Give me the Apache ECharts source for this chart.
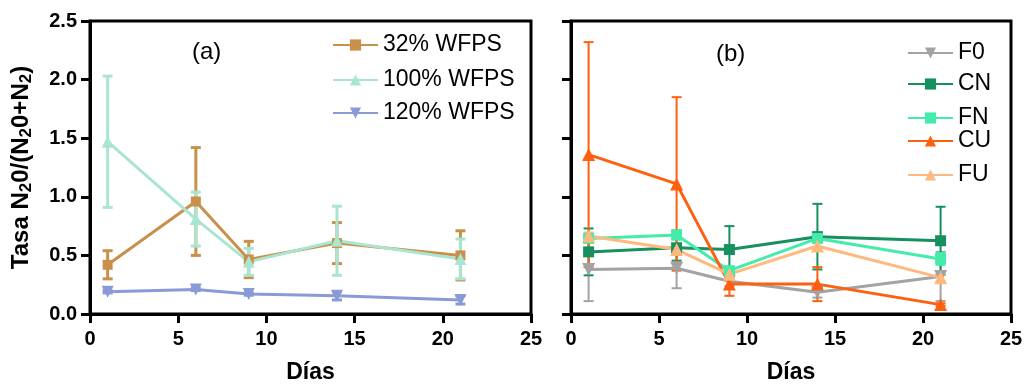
<!DOCTYPE html>
<html><head><meta charset="utf-8">
<script src="https://cdn.jsdelivr.net/npm/echarts@6/dist/echarts.min.js"></script>
<style>html,body{margin:0;padding:0;background:#fff}#c{width:1034px;height:385px}</style>
</head><body><div id="c"></div>
<script>
// ---------- data ----------
const days = [1, 6, 9, 14, 21];
const xTickValues = [0, 5, 10, 15, 20, 25];
const yTickValues = [0, 0.5, 1.0, 1.5, 2.0, 2.5];

// panel (a)
const namesA = ['32% WFPS', '100% WFPS', '120% WFPS'];
const w32 = [0.42, 0.96, 0.465, 0.605, 0.50];
const w32Err = [0.12, 0.46, 0.155, 0.175, 0.21];
const w100 = [1.47, 0.81, 0.445, 0.625, 0.47];
const w100Err = [0.56, 0.23, 0.115, 0.295, 0.17];
const w120 = [0.19, 0.21, 0.17, 0.155, 0.12];
const w120Err = [0.01, 0.01, 0.01, 0.035, 0.035];

// panel (b)
const namesB = ['F0', 'CN', 'FN', 'CU', 'FU'];
const f0 = [0.38, 0.39, 0.28, 0.185, 0.32];
const f0Err = [0.27, 0.17, 0.04, 0.045, 0.21];
const cn = [0.53, 0.565, 0.55, 0.66, 0.625];
const cnErr = [0.20, 0.11, 0.20, 0.28, 0.29];
const fn = [0.645, 0.675, 0.37, 0.645, 0.47];
const fnErr = [0.04, 0.04, 0.03, 0.04, 0.05];
const cu = [1.36, 1.11, 0.255, 0.255, 0.08];
const cuErr = [0.96, 0.74, 0.10, 0.145, 0.01];
const fu = [0.665, 0.55, 0.34, 0.58, 0.31];
const fuErr = [0.03, 0.03, 0.03, 0.03, 0.03];

// ---------- styles ----------
const FONT = 'Liberation Sans, Arial, sans-serif';
const defsA = [
  {vals: w32, err: w32Err, color: '#C8904A', symbol: 'rect', size: 10, rot: 0},
  {vals: w100, err: w100Err, color: '#A9E5D0', symbol: 'triangle', size: 12, rot: 0},
  {vals: w120, err: w120Err, color: '#8A9AD6', symbol: 'triangle', size: 12, rot: 180}
];
const defsB = [
  {vals: f0, err: f0Err, color: '#A3A3A3', symbol: 'triangle', size: 13, rot: 180},
  {vals: cn, err: cnErr, color: '#16905F', symbol: 'rect', size: 11, rot: 0},
  {vals: fn, err: fnErr, color: '#45EBAA', symbol: 'rect', size: 11, rot: 0},
  {vals: cu, err: cuErr, color: '#FF6010', symbol: 'triangle', size: 13, rot: 0},
  {vals: fu, err: fuErr, color: '#FFB97E', symbol: 'triangle', size: 13, rot: 0}
];
const legendYA = [43, 78, 111];
const legendYB = [51, 82, 116, 139, 173];

function errSeries(idx, d, width, cap) {
  return {
    type: 'custom', xAxisIndex: idx, yAxisIndex: idx, silent: true,
    data: days.map((x, i) => [x, d.vals[i] - d.err[i], d.vals[i] + d.err[i]]),
    encode: {x: 0, y: [1, 2]},
    renderItem(params, api) {
      const lo = api.coord([api.value(0), api.value(1)]);
      const hi = api.coord([api.value(0), api.value(2)]);
      const s = {stroke: d.color, lineWidth: width};
      return {type: 'group', children: [
        {type: 'line', shape: {x1: lo[0], y1: lo[1], x2: hi[0], y2: hi[1]}, style: s},
        {type: 'line', shape: {x1: lo[0] - cap, y1: lo[1], x2: lo[0] + cap, y2: lo[1]}, style: s},
        {type: 'line', shape: {x1: hi[0] - cap, y1: hi[1], x2: hi[0] + cap, y2: hi[1]}, style: s}
      ]};
    }
  };
}
function lineSeries(idx, name, d, lw) {
  return {
    type: 'line', name: name, xAxisIndex: idx, yAxisIndex: idx,
    data: days.map((x, i) => [x, d.vals[i]]),
    symbol: d.symbol, symbolSize: d.size, symbolRotate: d.rot,
    lineStyle: {color: d.color, width: lw}, itemStyle: {color: d.color},
    emphasis: {disabled: true}
  };
}

const series = [];
defsA.forEach((d, i) => { series.push(errSeries(0, d, 3, 5)); series.push(lineSeries(0, namesA[i], d, 3)); });
defsB.forEach((d, i) => { series.push(errSeries(1, d, 2, 5)); series.push(lineSeries(1, namesB[i], d, 3)); });

function xAxis(idx) {
  return {
    type: 'value', gridIndex: idx, min: xTickValues[0], max: xTickValues[xTickValues.length - 1],
    interval: xTickValues[1] - xTickValues[0],
    name: 'Días', nameLocation: 'middle', nameGap: 47,
    nameTextStyle: {fontFamily: FONT, fontWeight: 'bold', fontSize: 23, color: '#000'},
    axisLine: {lineStyle: {color: '#000', width: 3}},
    axisTick: {show: true, length: 9, lineStyle: {color: '#000', width: 3}},
    axisLabel: {margin: 15, fontFamily: FONT, fontWeight: 'bold', fontSize: 20, color: '#000'},
    splitLine: {show: false}
  };
}
function yAxis(idx, labels) {
  const ax = {
    type: 'value', gridIndex: idx, min: yTickValues[0], max: yTickValues[yTickValues.length - 1],
    interval: yTickValues[1] - yTickValues[0],
    axisLine: {lineStyle: {color: '#000', width: 3}},
    axisTick: {show: true, length: 9, lineStyle: {color: '#000', width: 3}},
    axisLabel: {show: labels, margin: 13, fontFamily: FONT, fontWeight: 'bold', fontSize: 20, color: '#000',
      formatter: v => v.toFixed(1)},
    splitLine: {show: false}
  };
  if (labels) {
    ax.name = '{m|Tasa N}{s|2}{m|0/(N}{s|2}{m|0+N}{s|2}{m|)}';
    ax.nameLocation = 'middle';
    ax.nameGap = 55;
    ax.nameRotate = 90;
    ax.nameTextStyle = {
      fontFamily: FONT, fontWeight: 'bold', color: '#000',
      rich: {
        m: {fontFamily: FONT, fontWeight: 'bold', fontSize: 24, color: '#000', lineHeight: 28},
        s: {fontFamily: FONT, fontWeight: 'bold', fontSize: 17, color: '#000', lineHeight: 28, verticalAlign: 'bottom', padding: [9, 0, 0, 0]}
      }
    };
  }
  return ax;
}

const legends = [];
namesA.forEach((n, i) => legends.push({
  data: [n], left: 332, top: legendYA[i] - 10, padding: 0, itemWidth: 45, itemHeight: 14, selectedMode: false,
  textStyle: {fontFamily: FONT, fontSize: 23, color: '#000', lineHeight: 24}
}));
namesB.forEach((n, i) => legends.push({
  data: [n], left: 907, top: legendYB[i] - 10, padding: 0, itemWidth: 45, itemHeight: 14, selectedMode: false,
  textStyle: {fontFamily: FONT, fontSize: 23, color: '#000', lineHeight: 24}
}));

const chart = echarts.init(document.getElementById('c'), null, {renderer: 'canvas'});
chart.setOption({
  animation: false,
  backgroundColor: '#fff',
  grid: [
    {left: 90, right: 503, top: 21, bottom: 71, show: true, borderColor: '#000', borderWidth: 3, containLabel: false, outerBoundsMode: 'none'},
    {left: 571, right: 23, top: 21, bottom: 71, show: true, borderColor: '#000', borderWidth: 3, containLabel: false, outerBoundsMode: 'none'}
  ],
  xAxis: [xAxis(0), xAxis(1)],
  yAxis: [yAxis(0, true), yAxis(1, false)],
  legend: legends,
  graphic: [
    {type: 'text', left: 192, top: 40, style: {text: '(a)', font: '24px ' + FONT, fill: '#000'}},
    {type: 'text', left: 716, top: 42, style: {text: '(b)', font: '24px ' + FONT, fill: '#000'}}
  ],
  series: series
});
</script>
</body></html>
